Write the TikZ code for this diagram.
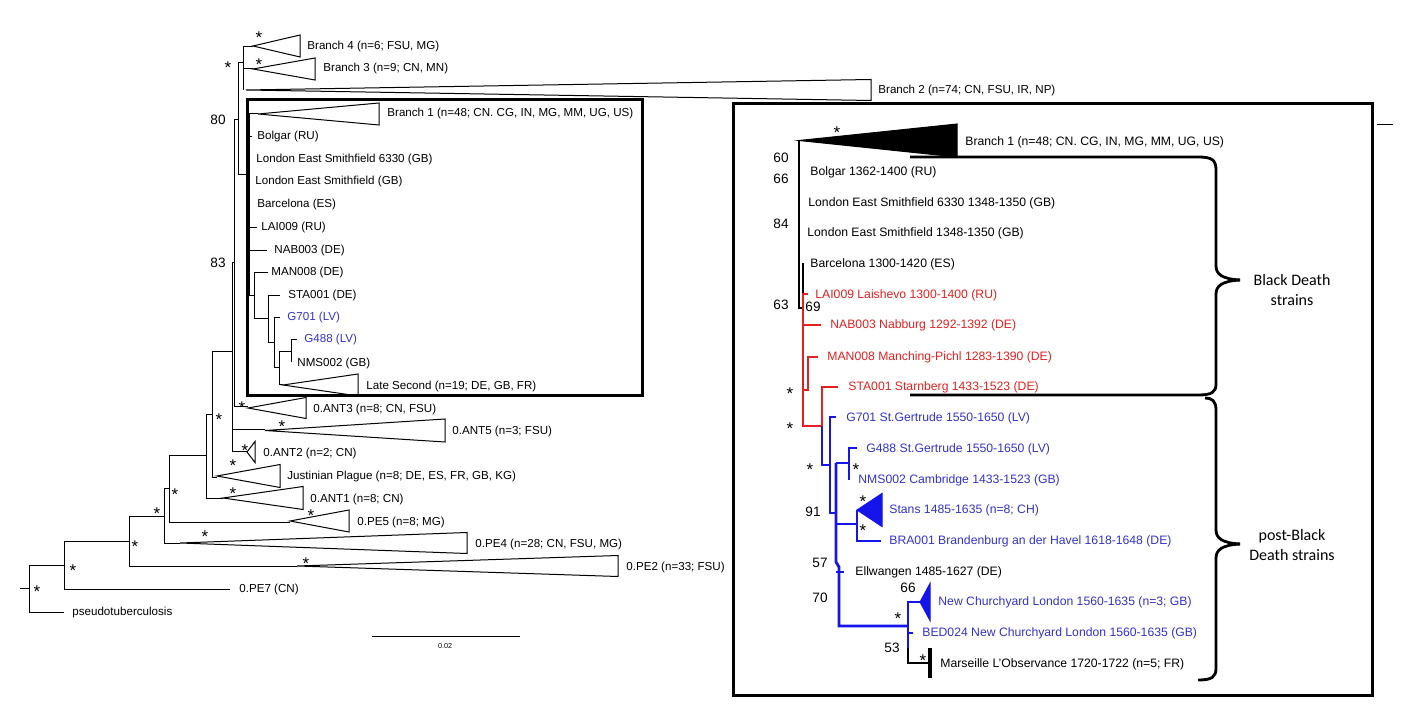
\documentclass[tikz,border=0pt]{standalone}
\usepackage{fontspec}
\setmainfont{Liberation Sans}
\newfontfamily\calfont{Carlito}
\usepackage{xcolor}
\usetikzlibrary{positioning}

\definecolor{bdred}{RGB}{228,32,32}
\definecolor{bdblue}{RGB}{20,20,235}
\definecolor{txblue}{RGB}{50,50,205}

% collapsed clade: apex x, apex y, right x, half height
\newcommand{\clade}[5][]{\draw[clade,#1] (#2,#3) -- (#4,{#3-#5}) -- (#4,{#3+#5}) -- cycle;}

\begin{document}
\begin{tikzpicture}[
  x=0.5pt, y=-0.5pt,
  br/.style={line width=0.5pt},
  fat/.style={line width=1.4pt},
  clade/.style={line width=0.5pt},
  frame/.style={line width=1.5pt},
  tip/.style={anchor=west, inner sep=0pt, font=\fontsize{5.8}{7}\selectfont},
  rtip/.style={anchor=west, inner sep=0pt, font=\fontsize{6.1}{7}\selectfont},
  boot/.style={inner sep=0pt, font=\fontsize{6.8}{8}\selectfont},
  ast/.style={inner sep=0pt, font=\fontsize{8.5}{9}\selectfont, yshift=-2pt},
  group/.style={align=center, inner sep=0pt, font=\calfont\fontsize{8}{9.8}\selectfont}
]
  \useasboundingbox (0,0) rectangle (1401,710);

  % whole tree (left)
  \draw[br] (20,588) -- (29,588);
  \draw[br] (29,565) -- (29,612) -- (64,612);
  \draw[br] (29,565) -- (64,565);
  \draw[br] (64,541) -- (64,589) -- (230,589);
  \draw[br] (64,541) -- (129,541);
  \draw[br] (129,516) -- (129,566) -- (297,566);
  \clade{297}{566}{618}{10.5}
  \draw[br] (129,516) -- (164,516);
  \draw[br] (164,488) -- (164,543) -- (180,543);
  \clade{180}{543}{467}{10.5}
  \draw[br] (164,488) -- (169,488);
  \draw[br] (169,456) -- (169,522) -- (290,522);
  \clade{290}{521}{349}{11}
  \draw[br] (169,456) -- (206,456);
  \draw[br] (206,415) -- (206,498) -- (223,498);
  \clade{223}{498}{303}{11.5}
  \draw[br] (206,415) -- (212,415);
  \draw[br] (212,352) -- (212,477) -- (217,477);
  \clade{217}{476}{280}{11.5}
  \draw[br] (212,352) -- (232,352);
  \draw[br] (232,263) -- (232,452) -- (247,452);
  \clade{247}{452}{255}{10.5}
  \draw[br] (232,430) -- (265,430);
  \clade{265}{430.5}{445}{11.5}
  \draw[br] (232,263) -- (234,263);
  \draw[br] (234,120) -- (234,407) -- (248,407);
  \clade{248}{408}{306}{10.5}
  \draw[br] (234,120) -- (238,120);
  \draw[br] (238,63) -- (238,175) -- (249,175);
  \draw[br] (238,63) -- (243,63);
  \draw[br] (243,47) -- (243,90);
  \draw[br] (243,47) -- (253,47);
  \clade{253}{46}{300}{11}
  \draw[br] (243,69) -- (253,69);
  \clade{253}{69}{315}{11}
  \clade{246}{90}{871}{10.5}

  % Black Death clade in the small frame
  \draw[line width=1pt] (249,114) -- (249,296);
  \draw[br] (249,114) -- (258,114);
  \clade{258}{114}{379}{11}
  \draw[br] (249,137) -- (252,137);
  \draw[br] (249,228) -- (257,228);
  \draw[br] (249,251) -- (267,251);
  \draw[br] (249,296) -- (254,296);
  \draw[br] (268,273) -- (254,273) -- (254,319) -- (268,319);
  \draw[br] (280,296) -- (268,296) -- (268,343) -- (274,343);
  \draw[br] (280,318) -- (274,318) -- (274,368) -- (279,368);
  \draw[br] (291,352) -- (279,352) -- (279,385) -- (283,385);
  \draw[br] (297,340) -- (291,340) -- (291,362);
  \clade{283}{385}{358}{11}
  \draw[frame] (247,100) rectangle (642,396);

  \node[tip] (b4) at (307,47) {Branch 4 (n=6; FSU, MG)};
  \node[tip] (b3) at (323,69) {Branch 3 (n=9; CN, MN)};
  \node[tip] (b2) at (878,91) {Branch 2 (n=74; CN, FSU, IR, NP)};
  \node[tip] (b1) at (387,114) {Branch 1 (n=48; CN. CG, IN, MG, MM, UG, US)};
  \node[tip] (bol) at (257,137) {Bolgar (RU)};
  \node[tip] (les1) at (256,160) {London East Smithfield 6330 (GB)};
  \node[tip] (les2) at (255,182) {London East Smithfield (GB)};
  \node[tip] (bar) at (257,205) {Barcelona (ES)};
  \node[tip] (lai) at (261,228) {LAI009 (RU)};
  \node[tip] (nab) at (274,251) {NAB003 (DE)};
  \node[tip] (man) at (271,273) {MAN008 (DE)};
  \node[tip] (sta) at (288,296) {STA001 (DE)};
  \node[tip, txblue] (g701) at (287,318) {G701 (LV)};
  \node[tip, txblue] (g488) at (304,340) {G488 (LV)};
  \node[tip] (nms) at (297,363) {NMS002 (GB)};
  \node[tip] (late) at (366,386) {Late Second (n=19; DE, GB, FR)};
  \node[tip] (ant3) at (313,409) {0.ANT3 (n=8; CN, FSU)};
  \node[tip] (ant5) at (452,431) {0.ANT5 (n=3; FSU)};
  \node[tip] (ant2) at (263,453) {0.ANT2 (n=2; CN)};
  \node[tip] (just) at (287,477) {Justinian Plague (n=8; DE, ES, FR, GB, KG)};
  \node[tip] (ant1) at (310,499) {0.ANT1 (n=8; CN)};
  \node[tip] (pe5) at (357,522) {0.PE5 (n=8; MG)};
  \node[tip] (pe4) at (475,544) {0.PE4 (n=28; CN, FSU, MG)};
  \node[tip] (pe2) at (626,567) {0.PE2 (n=33; FSU)};
  \node[tip] (pe7) at (239,589) {0.PE7 (CN)};
  \node[tip] (pst) at (72,612) {pseudotuberculosis};

  \node[boot] (s80) at (218,120) {80};
  \node[boot] (s83) at (218,263) {83};
  \foreach \ax/\ay in {259/34, 259/61, 228/64, 242/404, 282/423, 245/447, 233/462,
                      219/416, 233/490, 175/491, 311/512, 157/510, 205/533,
                      135/543, 306/560, 73/567, 37/588}
    \node[ast] at (\ax,\ay) {*};

  % scale bar
  \draw[br] (372,636) -- (520,636);
  \node[inner sep=0pt, font=\fontsize{3.6}{4}\selectfont] (sc) at (445,646) {0.02};

  % zoomed frame
  \draw[frame] (733,104) rectangle (1372,695);
  \draw[br] (1377,125) -- (1393,125);

  \clade[fill=black]{799}{140.5}{957}{16.5}
  \draw[fat] (799,141) -- (799,308) -- (803,308) -- (803,263);
  \draw[fat, bdred] (808,294) -- (803,294) -- (803,426) -- (822,426) -- (822,387) -- (838,387);
  \draw[fat, bdred] (803,325) -- (821,325);
  \draw[fat, bdred] (803,390) -- (808,390) -- (808,357) -- (818,357);
  \draw[fat, bdblue] (822,426) -- (822,465) -- (830,465);
  \draw[fat, bdblue] (836,417) -- (830,417) -- (830,513) -- (836,513);
  \draw[fat, bdblue] (836,463) -- (836,562) -- (839,567) -- (839,626) -- (908,626);
  \draw[fat, bdblue] (836,463) -- (849,463);
  \draw[fat, bdblue] (857,448) -- (849,448) -- (849,480);
  \draw[fat, bdblue] (836,524) -- (857,524);
  \draw[fat, bdblue] (857,510) -- (857,541) -- (881,541);
  \draw[fat, bdblue] (836,572) -- (844,572);
  \draw[fat, bdblue] (920,602) -- (908,602) -- (908,648);
  \draw[fat, bdblue] (908,633) -- (913,633);
  \clade[fill=bdblue, draw=bdblue]{857}{510}{882}{16.5}
  \clade[fill=bdblue, draw=bdblue]{920}{602}{930}{18.5}
  \draw[fat] (908,648) -- (908,663) -- (930,663);
  \draw[line width=1.8pt] (930,648) -- (930,678);

  \node[rtip] (rb1) at (965,142) {Branch 1 (n=48; CN. CG, IN, MG, MM, UG, US)};
  \node[rtip] (rbol) at (810,172) {Bolgar 1362-1400 (RU)};
  \node[rtip] (rles1) at (808,203) {London East Smithfield 6330 1348-1350 (GB)};
  \node[rtip] (rles2) at (807,233) {London East Smithfield 1348-1350 (GB)};
  \node[rtip] (rbar) at (810,264) {Barcelona 1300-1420 (ES)};
  \node[rtip, bdred] (rlai) at (815,295) {LAI009 Laishevo 1300-1400 (RU)};
  \node[rtip, bdred] (rnab) at (830,325) {NAB003 Nabburg 1292-1392 (DE)};
  \node[rtip, bdred] (rman) at (827,357) {MAN008 Manching-Pichl 1283-1390 (DE)};
  \node[rtip, bdred] (rsta) at (848,387) {STA001 Starnberg 1433-1523 (DE)};
  \node[rtip, txblue] (rg701) at (846,418) {G701 St.Gertrude 1550-1650 (LV)};
  \node[rtip, txblue] (rg488) at (866,449) {G488 St.Gertrude 1550-1650 (LV)};
  \node[rtip, txblue] (rnms) at (858,480) {NMS002 Cambridge 1433-1523 (GB)};
  \node[rtip, txblue] (rsta2) at (889,510) {Stans 1485-1635 (n=8; CH)};
  \node[rtip, txblue] (rbra) at (889,541) {BRA001 Brandenburg an der Havel 1618-1648 (DE)};
  \node[rtip] (rell) at (855,572) {Ellwangen 1485-1627 (DE)};
  \node[rtip, txblue] (rnc) at (938,602) {New Churchyard London 1560-1635 (n=3; GB)};
  \node[rtip, txblue] (rbed) at (922,633) {BED024 New Churchyard London 1560-1635 (GB)};
  \node[rtip] (rmar) at (940,664) {Marseille L'Observance 1720-1722 (n=5; FR)};

  \foreach \bx/\by/\bv in {781/158/60, 781/179/66, 781/224/84, 781/305/63, 813/307/69,
                          813/512/91, 820/563/57, 820/598/70, 908/588/66, 892/648/53}
    \node[boot] at (\bx,\by) {\bv};
  \foreach \ax/\ay in {837/129, 790/390, 790/425, 810/466, 856/466, 863/498,
                      863/527, 898/615, 923/657}
    \node[ast] at (\ax,\ay) {*};

  % braces
  \draw[fat] (910,157) -- (1198,157) .. controls (1212,157) and (1216,160) .. (1216,170)
    -- (1216,266) .. controls (1216,274) and (1222,279) .. (1240,280);
  \draw[fat] (910,395) -- (1198,395) .. controls (1212,395) and (1216,392) .. (1216,384)
    -- (1216,294) .. controls (1216,286) and (1222,281) .. (1240,280);
  \draw[fat] (1205,398) .. controls (1212,398) and (1216,401) .. (1216,410)
    -- (1216,530) .. controls (1216,538) and (1222,543) .. (1240,544);
  \draw[fat] (1198,680) .. controls (1212,680) and (1216,677) .. (1216,668)
    -- (1216,558) .. controls (1216,550) and (1222,545) .. (1240,544);

  \node[group] (bd) at (1292,290) {Black Death\\strains};
  \node[group] (pbd) at (1292,545) {post-Black\\Death strains};
\end{tikzpicture}
\end{document}
